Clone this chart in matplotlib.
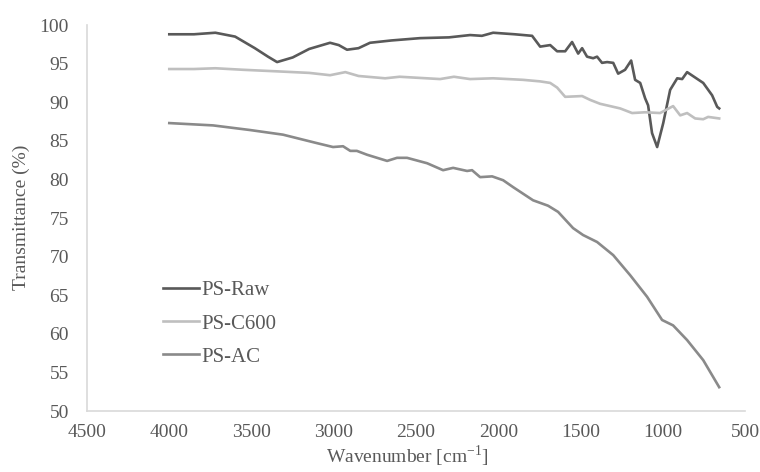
import matplotlib
matplotlib.use("Agg")
import matplotlib.pyplot as plt

plt.rcParams['font.family'] = ['Liberation Serif', 'DejaVu Serif']

# FTIR spectra (wavenumber in cm-1, transmittance in %)
raw_wn = [4000, 3850, 3720, 3600, 3480, 3400, 3345, 3250, 3150, 3023, 2970, 2920, 2850, 2780,
          2650, 2476, 2300, 2172, 2100, 2032, 1900, 1795, 1746, 1685, 1643, 1594, 1552, 1515,
          1491, 1461, 1424, 1400, 1370, 1339, 1302, 1272, 1230, 1193, 1169, 1138, 1108, 1090,
          1066, 1035, 998, 956, 913, 883, 853, 804, 755, 701, 670, 658]
raw_t = [98.8, 98.8, 99.0, 98.5, 97.0, 95.9, 95.2, 95.8, 96.9, 97.7, 97.4, 96.8, 97.0, 97.7,
         98.0, 98.3, 98.4, 98.7, 98.6, 99.0, 98.8, 98.6, 97.2, 97.4, 96.6, 96.6, 97.8, 96.3,
         97.0, 95.9, 95.7, 95.9, 95.1, 95.2, 95.1, 93.7, 94.2, 95.4, 92.9, 92.5, 90.5, 89.6,
         86.0, 84.2, 87.3, 91.6, 93.1, 93.0, 93.9, 93.2, 92.5, 90.9, 89.4, 89.2]

c600_wn = [4000, 3850, 3720, 3550, 3345, 3150, 3023, 2930, 2850, 2688, 2600, 2354, 2270, 2172,
           2032, 1850, 1746, 1685, 1643, 1594, 1491, 1442, 1382, 1260, 1187, 1108, 1017, 938,
           895, 853, 804, 755, 725, 658]
c600_t = [94.3, 94.3, 94.4, 94.2, 94.0, 93.8, 93.5, 93.9, 93.4, 93.1, 93.3, 93.0, 93.3, 93.0,
          93.1, 92.9, 92.7, 92.5, 91.9, 90.7, 90.8, 90.3, 89.8, 89.2, 88.6, 88.7, 88.6, 89.5,
          88.3, 88.6, 87.9, 87.8, 88.1, 87.9]

ac_wn = [4000, 3734, 3509, 3309, 3102, 3005, 2944, 2900, 2860, 2798, 2676, 2616, 2555, 2433,
         2336, 2275, 2190, 2160, 2111, 2038, 1971, 1910, 1789, 1698, 1637, 1546, 1485, 1400,
         1302, 1199, 1096, 1005, 938, 853, 755, 658]
ac_t = [87.3, 87.0, 86.4, 85.8, 84.7, 84.2, 84.3, 83.7, 83.7, 83.2, 82.4, 82.8, 82.8, 82.1,
        81.2, 81.5, 81.1, 81.2, 80.3, 80.4, 79.9, 79.0, 77.3, 76.6, 75.8, 73.7, 72.8, 71.9,
        70.2, 67.6, 64.8, 61.8, 61.1, 59.2, 56.6, 53.1]

series_names = ["PS-Raw", "PS-C600", "PS-AC"]
series_colors = ["#595959", "#bfbfbf", "#8a8a8a"]

x_ticks = [4500, 4000, 3500, 3000, 2500, 2000, 1500, 1000, 500]
y_ticks = [50, 55, 60, 65, 70, 75, 80, 85, 90, 95, 100]

text_color = "#595959"

fig = plt.figure(figsize=(7.6, 4.72), dpi=100)
ax = fig.add_axes([0.1145, 0.129, 0.866, 0.818])

for wn, t, name, col in zip([raw_wn, c600_wn, ac_wn], [raw_t, c600_t, ac_t],
                            series_names, series_colors):
    ax.plot(wn, t, color=col, lw=1.9, label=name, solid_joinstyle='round')

ax.set_xlim(4500, 500)
ax.set_ylim(50, 100)
ax.set_xticks(x_ticks)
ax.set_yticks(y_ticks)
ax.tick_params(length=0, labelsize=14, colors=text_color)
ax.tick_params(axis="y", pad=13)
ax.tick_params(axis="x", pad=9)

for s in ["top", "right"]:
    ax.spines[s].set_visible(False)
for s in ["left", "bottom"]:
    ax.spines[s].set_color("#d9d9d9")
    ax.spines[s].set_linewidth(1.2)

fig.text(0.536, 0.006, "Wavenumber [cm$^{\\mathregular{-1}}$]", fontsize=14,
         color=text_color, ha="center", va="bottom")
fig.text(0.028, 0.54, "Transmittance (%)", fontsize=14, color=text_color,
         rotation=90, ha="center", va="center")

leg = ax.legend(loc="upper left", bbox_to_anchor=(0.093, 0.375), frameon=False,
                fontsize=15, handlelength=1.75, handletextpad=0.1, labelspacing=0.65,
                borderpad=0.2)
for txt in leg.get_texts():
    txt.set_color(text_color)

fig.savefig("out.png", dpi=100)
